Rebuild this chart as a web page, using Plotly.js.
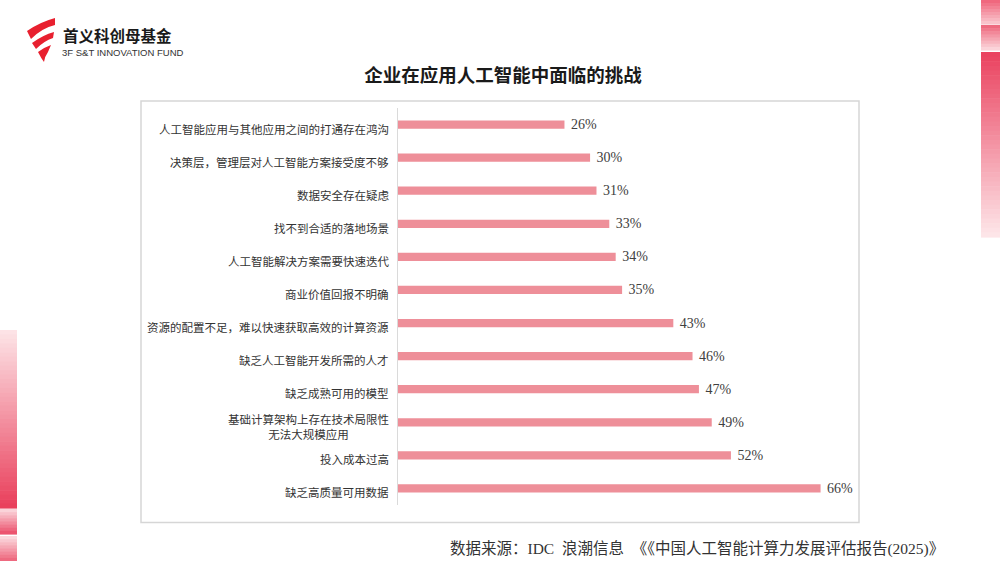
<!DOCTYPE html>
<html>
<head>
<meta charset="utf-8">
<script src="https://cdn.plot.ly/plotly-3.0.1.min.js"></script>
<style>html,body{margin:0;padding:0;background:#fff;}#chart{width:1000px;height:561px;}</style>
</head>
<body>
<div id="chart"></div>
<script>
// ---- data ----
const categories = [
  "人工智能应用与其他应用之间的打通存在鸿沟",
  "决策层，管理层对人工智能方案接受度不够",
  "数据安全存在疑虑",
  "找不到合适的落地场景",
  "人工智能解决方案需要快速迭代",
  "商业价值回报不明确",
  "资源的配置不足，难以快速获取高效的计算资源",
  "缺乏人工智能开发所需的人才",
  "缺乏成熟可用的模型",
  "基础计算架构上存在技术局限性<br>无法大规模应用",
  "投入成本过高",
  "缺乏高质量可用数据"
];
const values = [26, 30, 31, 33, 34, 35, 43, 46, 47, 49, 52, 66];
const titleText = "企业在应用人工智能中面临的挑战";
const sourceText = "数据来源：IDC  浪潮信息  《《中国人工智能计算力发展评估报告(2025)》";
const brandCN = "首义科创母基金";
const brandEN = "3F S&amp;T INNOVATION FUND";

// ---- layout helpers (pixel -> paper) ----
const W = 1000, H = 561;
const M = {l: 398, r: 141, t: 108, b: 56};
const PW = W - M.l - M.r, PH = H - M.t - M.b;
const PX = x => (x - M.l) / PW;
const PY = y => (H - M.b - y) / PH;
const path = s => s.replace(/(-?\d+\.?\d*),(-?\d+\.?\d*)/g, (m, a, b) => PX(+a).toFixed(5) + ',' + PY(+b).toFixed(5));

function hex2rgb(h){h=h.replace('#','');return [0,2,4].map(i=>parseInt(h.substr(i,2),16));}
function gradientRects(x0, x1, y0, y1, cTop, cBot, n){
  const a = hex2rgb(cTop), b = hex2rgb(cBot), out = [];
  const step = (y1 - y0) / n;
  for (let i = 0; i < n; i++) {
    const t = n === 1 ? 0 : i / (n - 1);
    const c = a.map((v, k) => Math.round(v + (b[k] - v) * t));
    out.push({type:'rect', xref:'paper', yref:'paper', layer:'below',
      x0: PX(x0), x1: PX(x1), y0: PY(y0 + i*step), y1: PY(y0 + (i+1)*step + 0.6),
      fillcolor:`rgb(${c.join(',')})`, line:{width:0}});
  }
  return out;
}

const shapes = [
  // chart frame
  {type:'rect', xref:'paper', yref:'paper', layer:'below',
   x0: PX(141), x1: PX(859), y0: PY(522.5), y1: PY(101),
   line:{color:'#d6d6d6', width:1.5}, fillcolor:'rgba(0,0,0,0)'},
  // logo mark
  {type:'path', xref:'paper', yref:'paper', fillcolor:'#e8202f', line:{width:0},
   path: path('M27,31 Q40,22 55,18 L55,25 Q42,28 31,39 Z')},
  {type:'path', xref:'paper', yref:'paper', fillcolor:'#e8202f', line:{width:0},
   path: path('M32,43 Q43,35 54,32 L53,38 Q44,41 36,49 Z')},
  {type:'path', xref:'paper', yref:'paper', fillcolor:'#e8202f', line:{width:0},
   path: path('M38,52 Q45,47 51,45 L48,52 Q45,56 44,62 Q41,58 38,52 Z')}
];
// side decorations
shapes.push(...gradientRects(981, 1000, 0, 24, '#f0687e', '#f9c3cb', 8));
shapes.push(...gradientRects(981, 1000, 25, 50, '#ee6a7f', '#fbd3d9', 8));
shapes.push(...gradientRects(981, 1000, 52, 237, '#ea4360', '#fde5e8', 40));
shapes.push(...gradientRects(0, 17, 330, 508, '#fde3e6', '#e9405c', 40));
shapes.push(...gradientRects(0, 17, 509, 534, '#fad3d9', '#ec5570', 8));
shapes.push(...gradientRects(0, 17, 536, 561, '#fbd8dd', '#ee6a80', 8));

const labelFont = {family:"'Noto Sans CJK SC', sans-serif", size:11.5, color:'#333333'};
const annotations = categories.map(c => ({
  x: 0, xref:'x', y: c, yref:'y', xanchor:'right', yanchor:'middle',
  xshift: -7, yshift: -4, align:'center', showarrow:false, text: c, font: labelFont
}));
annotations.push({
  x: PX(62), y: PY(35.5), xref:'paper', yref:'paper', xanchor:'left', yanchor:'middle',
  showarrow:false, text: brandCN, borderpad:0,
  font:{family:"'Noto Sans CJK SC', sans-serif", size:15.5, color:'#1a1a1a', weight:700}
});
annotations.push({
  x: PX(61), y: PY(52.5), xref:'paper', yref:'paper', xanchor:'left', yanchor:'middle',
  showarrow:false, text: brandEN, borderpad:0,
  font:{family:"'Liberation Sans', Arial, sans-serif", size:9.5, color:'#333333'}
});
annotations.push({
  x: PX(946), y: PY(548), xref:'paper', yref:'paper', xanchor:'right', yanchor:'middle',
  showarrow:false, text: sourceText,
  font:{family:"'Liberation Serif', 'Noto Sans CJK SC', serif", size:15.5, color:'#333333'}
});

const trace = {
  type:'bar', orientation:'h', x: values, y: categories,
  width: 0.25,
  marker:{color:'#ee8f99', line:{width:0}},
  texttemplate:' %{x}%', textposition:'outside', constraintext:'none', cliponaxis:false,
  textfont:{family:"'Liberation Serif', serif", size:14, color:'#404040'},
  hoverinfo:'skip'
};

const layout = {
  width: W, height: H,
  margin: M,
  paper_bgcolor:'#ffffff', plot_bgcolor:'#ffffff',
  showlegend:false,
  title:{text: titleText, xref:'container', yref:'container', x:0.503, y:1 - 76/H,
         xanchor:'center', yanchor:'middle',
         font:{family:"'Noto Sans CJK SC', sans-serif", size:18.5, color:'#1a1a1a', weight:700}},
  xaxis:{range:[0, 72], visible:false, fixedrange:true},
  yaxis:{type:'category', autorange:'reversed', showticklabels:false, ticks:'',
         showgrid:false, zeroline:false, showline:true, linecolor:'#dadada', linewidth:1,
         fixedrange:true},
  shapes: shapes,
  annotations: annotations
};

Plotly.newPlot('chart', [trace], layout, {displayModeBar:false, staticPlot:true});
</script>
</body>
</html>
